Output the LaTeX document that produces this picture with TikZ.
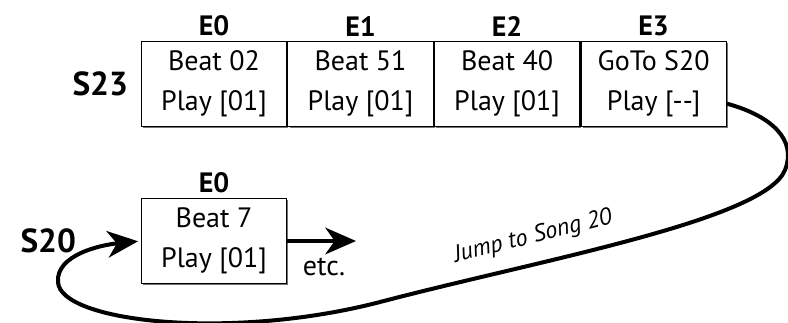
\documentclass[tikz,border=0pt]{standalone}
\usepackage{fontspec}
\setmainfont{PT Sans}
\usetikzlibrary{positioning,shadows,arrows.meta}

\tikzset{
  cell/.style={draw, line width=0.9pt, fill=white, minimum width=109pt,
    minimum height=64pt, align=center, inner sep=0pt,
    font=\fontsize{21}{30}\selectfont,
    drop shadow={shadow xshift=1.3pt, shadow yshift=-1.3pt, fill=black!55, opacity=1}},
  evt/.style={font=\fontsize{21}{24}\selectfont\bfseries},
  song/.style={font=\fontsize{25}{28}\selectfont\bfseries},
  jump/.style={line width=3pt, -{Stealth[length=23pt,width=20pt,inset=7pt]}},
}

\begin{document}
\begin{tikzpicture}[x={(0.75pt,0)}, y={(0,-0.75pt)}]
  \useasboundingbox (0,0) rectangle (788,322);

  % song 23, four events
  \node[cell, label={[evt]above:E0}] (s23e0) at (214,84) {Beat 02\\Play [01]};
  \node[cell, label={[evt]above:E1}, right=0pt of s23e0] (s23e1) {Beat 51\\Play [01]};
  \node[cell, label={[evt]above:E2}, right=0pt of s23e1] (s23e2) {Beat 40\\Play [01]};
  \node[cell, label={[evt]above:E3}, right=0pt of s23e2] (s23e3) {GoTo S20\\Play [{-}{-}]};
  \node[song, left=6pt of s23e0] (s23) {S23};

  % song 20
  \node[cell, label={[evt]above:E0}] (s20e0) at (214,241) {Beat 7\\Play [01]};
  \node[song, left=45pt of s20e0] (s20) {S20};

  \coordinate (etcend) at (356,241);
  \draw[jump] (s20e0) -- (etcend);
  \node[font=\fontsize{21}{24}\selectfont] (etc) at (324,267) {etc.};

  % the jump
  \draw[jump, shorten >=2pt] (s23e3.-15) .. controls (772,116) and (797,140) .. (785,170)
    .. controls (765,220) and (540,260) .. (380,302)
    .. controls (230,341) and (60,322) .. (58,282)
    .. controls (56,255) and (100,245) .. (s20e0.west);
  \node[rotate=14, font=\fontsize{18}{20}\selectfont\itshape] (jumplbl) at (533,237) {Jump to Song 20};
\end{tikzpicture}
\end{document}
